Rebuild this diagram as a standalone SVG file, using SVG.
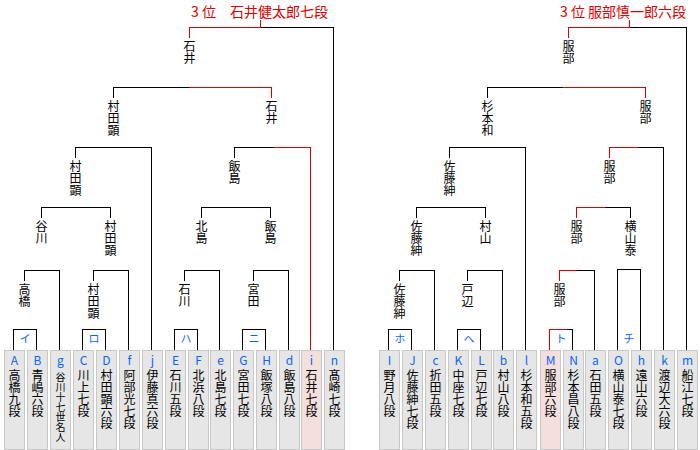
<svg xmlns="http://www.w3.org/2000/svg" width="700" height="450" viewBox="0 0 700 450">
<style>
text{font-family:"Noto Sans CJK JP","Noto Sans CJK SC",sans-serif}
.bk{stroke:#000;stroke-width:1;fill:none;shape-rendering:crispEdges}
.rd{stroke:#dd0000;stroke-width:1;fill:none;shape-rendering:crispEdges}
.v{font-size:12px;writing-mode:vertical-rl;text-anchor:start;fill:#000}
.ch{font-size:14px;fill:#dd0000}
.bx{font-size:11px;text-anchor:middle;fill:#0a64ff}
.card{fill:#e6e6e6;stroke:#c8c8c8;stroke-width:1;shape-rendering:crispEdges}
.pk{fill:#f5dede}
.lt{font-size:12px;text-anchor:middle;fill:#0a64ff}
.sm{font-size:10px}
</style>
<rect width="700" height="450" fill="#fff"/>
<g id="connectors">
<path class="rd" d="M189.5,37.5V27.5H260.5M260.5,27.5V19.5"/>
<path class="bk" d="M260.5,27.5H333.5V350"/>
<path class="bk" d="M113.5,97.5V87.5H188.5"/>
<path class="rd" d="M188.5,87.5H271.5V97.5"/>
<path class="bk" d="M75.5,157.5V147.5H151.5V350"/>
<path class="bk" d="M234.5,157.5V147.5H273.5"/>
<path class="rd" d="M273.5,147.5H310.5V350"/>
<path class="bk" d="M41.5,217.5V207.5H110.5V217.5M201.5,217.5V207.5H270.5V217.5"/>
<path class="bk" d="M24.5,280.5V270.5H59.5V350M93.5,280.5V270.5H128.5V350M184.5,280.5V270.5H219.5V350M253.5,280.5V270.5H288.5V350"/>
<path class="bk" d="M13.5,350V329.5H36.5V350M82.5,350V329.5H105.5V350M174.5,350V329.5H197.5V350M242.5,350V329.5H265.5V350"/>
<path class="rd" d="M568.5,37.5V27.5H629.5M629.5,27.5V19.5"/>
<path class="bk" d="M629.5,27.5H686.5V350"/>
<path class="bk" d="M487.5,97.5V87.5H562.5"/>
<path class="rd" d="M562.5,87.5H645.5V97.5"/>
<path class="bk" d="M449.5,157.5V147.5H525.5V350"/>
<path class="rd" d="M609.5,157.5V147.5H637.5"/>
<path class="bk" d="M637.5,147.5H663.5V350"/>
<path class="bk" d="M416.5,217.5V207.5H485.5V217.5"/>
<path class="rd" d="M576.5,217.5V207.5H604.5"/>
<path class="bk" d="M604.5,207.5H630.5V217.5"/>
<path class="bk" d="M399.5,280.5V270.5H434.5V350M467.5,280.5V270.5H502.5V350"/>
<path class="rd" d="M559.5,280.5V270.5H576.5"/>
<path class="bk" d="M576.5,270.5H594.5V350"/>
<path class="bk" d="M617.5,350V269.5H640.5V350"/>
<path class="bk" d="M388.5,350V329.5H411.5V350M457.5,350V329.5H480.5V350"/>
<path class="rd" d="M549.5,350V329.5H566.5"/>
<path class="bk" d="M566.5,329.5H572.5V350"/>
</g>
<g id="champion-left"><text class="ch" x="191" y="17">3 位　石井健太郎七段</text></g>
<g id="champion-right"><text class="ch" x="560" y="17">3 位 服部慎一郎六段</text></g>
<g id="n-ishii-top"><text class="v" x="189.5" y="40">石井</text></g>
<g id="n-murata-sf"><text class="v" x="113.5" y="100">村田顕</text></g>
<g id="n-ishii-sf"><text class="v" x="271.5" y="100">石井</text></g>
<g id="n-murata-qf"><text class="v" x="75.5" y="160">村田顕</text></g>
<g id="n-iijima-qf"><text class="v" x="234.5" y="160">飯島</text></g>
<g id="n-tanigawa"><text class="v" x="41.5" y="220">谷川</text></g>
<g id="n-murata-r2"><text class="v" x="110.5" y="220">村田顕</text></g>
<g id="n-kitajima"><text class="v" x="201.5" y="220">北島</text></g>
<g id="n-iijima-r2"><text class="v" x="270.5" y="220">飯島</text></g>
<g id="n-takahashi"><text class="v" x="24.5" y="283">高橋</text></g>
<g id="n-murata-r1"><text class="v" x="93.5" y="283">村田顕</text></g>
<g id="n-ishikawa"><text class="v" x="184.5" y="283">石川</text></g>
<g id="n-miyata"><text class="v" x="253.5" y="283">宮田</text></g>
<g id="n-hattori-top"><text class="v" x="568.5" y="40">服部</text></g>
<g id="n-sugimoto-sf"><text class="v" x="487.5" y="100">杉本和</text></g>
<g id="n-hattori-sf"><text class="v" x="645.5" y="100">服部</text></g>
<g id="n-sato-qf"><text class="v" x="449.5" y="160">佐藤紳</text></g>
<g id="n-hattori-qf"><text class="v" x="609.5" y="160">服部</text></g>
<g id="n-sato-r2"><text class="v" x="416.5" y="220">佐藤紳</text></g>
<g id="n-murayama"><text class="v" x="485.5" y="220">村山</text></g>
<g id="n-hattori-r2"><text class="v" x="576.5" y="220">服部</text></g>
<g id="n-yokoyama"><text class="v" x="630.5" y="220">横山泰</text></g>
<g id="n-sato-r1"><text class="v" x="399.5" y="283">佐藤紳</text></g>
<g id="n-tobe"><text class="v" x="467.5" y="283">戸辺</text></g>
<g id="n-hattori-r1"><text class="v" x="559.5" y="283">服部</text></g>
<g id="box-i"><text class="bx" x="25" y="342.5">イ</text></g>
<g id="box-ro"><text class="bx" x="94" y="342.5">ロ</text></g>
<g id="box-ha"><text class="bx" x="186" y="342.5">ハ</text></g>
<g id="box-ni"><text class="bx" x="254" y="342.5">ニ</text></g>
<g id="box-ho"><text class="bx" x="400" y="342.5">ホ</text></g>
<g id="box-he"><text class="bx" x="469" y="342.5">ヘ</text></g>
<g id="box-to"><text class="bx" x="561" y="342.5">ト</text></g>
<g id="box-chi"><text class="bx" x="629" y="342.5">チ</text></g>
<g id="c-A"><rect class="card" x="4.5" y="350.5" width="20" height="99"/><text class="lt" x="14.5" y="364.5">A</text><text class="v" x="14.5" y="369">高橋九段</text></g>
<g id="c-B"><rect class="card" x="27.5" y="350.5" width="20" height="99"/><text class="lt" x="37.5" y="364.5">B</text><text class="v" x="37.5" y="369">青嶋六段</text></g>
<g id="c-g"><rect class="card" x="50.5" y="350.5" width="20" height="99"/><text class="lt" x="60.5" y="364.5">g</text><text class="v sm" x="60.5" y="372">谷川十七世名人</text></g>
<g id="c-C"><rect class="card" x="73.5" y="350.5" width="20" height="99"/><text class="lt" x="83.5" y="364.5">C</text><text class="v" x="83.5" y="369">川上七段</text></g>
<g id="c-D"><rect class="card" x="96.5" y="350.5" width="20" height="99"/><text class="lt" x="106.5" y="364.5">D</text><text class="v" x="106.5" y="369">村田顕六段</text></g>
<g id="c-f"><rect class="card" x="119.5" y="350.5" width="20" height="99"/><text class="lt" x="129.5" y="364.5">f</text><text class="v" x="129.5" y="369">阿部光七段</text></g>
<g id="c-j"><rect class="card" x="142.5" y="350.5" width="20" height="99"/><text class="lt" x="152.5" y="364.5">j</text><text class="v" x="152.5" y="369">伊藤真六段</text></g>
<g id="c-E"><rect class="card" x="165.5" y="350.5" width="20" height="99"/><text class="lt" x="175.5" y="364.5">E</text><text class="v" x="175.5" y="369">石川五段</text></g>
<g id="c-F"><rect class="card" x="188.5" y="350.5" width="20" height="99"/><text class="lt" x="198.5" y="364.5">F</text><text class="v" x="198.5" y="369">北浜八段</text></g>
<g id="c-e"><rect class="card" x="210.5" y="350.5" width="20" height="99"/><text class="lt" x="220.5" y="364.5">e</text><text class="v" x="220.5" y="369">北島七段</text></g>
<g id="c-G"><rect class="card" x="233.5" y="350.5" width="20" height="99"/><text class="lt" x="243.5" y="364.5">G</text><text class="v" x="243.5" y="369">宮田七段</text></g>
<g id="c-H"><rect class="card" x="256.5" y="350.5" width="20" height="99"/><text class="lt" x="266.5" y="364.5">H</text><text class="v" x="266.5" y="369">飯塚八段</text></g>
<g id="c-d"><rect class="card" x="279.5" y="350.5" width="20" height="99"/><text class="lt" x="289.5" y="364.5">d</text><text class="v" x="289.5" y="369">飯島八段</text></g>
<g id="c-i"><rect class="card pk" x="301.5" y="350.5" width="20" height="99"/><text class="lt" x="311.5" y="364.5">i</text><text class="v" x="311.5" y="369">石井七段</text></g>
<g id="c-n"><rect class="card" x="324.5" y="350.5" width="20" height="99"/><text class="lt" x="334.5" y="364.5">n</text><text class="v" x="334.5" y="369">髙崎七段</text></g>
<g id="c-I"><rect class="card" x="379.5" y="350.5" width="20" height="99"/><text class="lt" x="389.5" y="364.5">I</text><text class="v" x="389.5" y="369">野月八段</text></g>
<g id="c-J"><rect class="card" x="402.5" y="350.5" width="20" height="99"/><text class="lt" x="412.5" y="364.5">J</text><text class="v" x="412.5" y="369">佐藤紳七段</text></g>
<g id="c-c"><rect class="card" x="425.5" y="350.5" width="20" height="99"/><text class="lt" x="435.5" y="364.5">c</text><text class="v" x="435.5" y="369">折田五段</text></g>
<g id="c-K"><rect class="card" x="448.5" y="350.5" width="20" height="99"/><text class="lt" x="458.5" y="364.5">K</text><text class="v" x="458.5" y="369">中座七段</text></g>
<g id="c-L"><rect class="card" x="471.5" y="350.5" width="20" height="99"/><text class="lt" x="481.5" y="364.5">L</text><text class="v" x="481.5" y="369">戸辺七段</text></g>
<g id="c-b"><rect class="card" x="493.5" y="350.5" width="20" height="99"/><text class="lt" x="503.5" y="364.5">b</text><text class="v" x="503.5" y="369">村山八段</text></g>
<g id="c-l"><rect class="card" x="516.5" y="350.5" width="20" height="99"/><text class="lt" x="526.5" y="364.5">l</text><text class="v" x="526.5" y="369">杉本和五段</text></g>
<g id="c-M"><rect class="card pk" x="540.5" y="350.5" width="20" height="99"/><text class="lt" x="550.5" y="364.5">M</text><text class="v" x="550.5" y="369">服部六段</text></g>
<g id="c-N"><rect class="card" x="563.5" y="350.5" width="20" height="99"/><text class="lt" x="573.5" y="364.5">N</text><text class="v" x="573.5" y="369">杉本昌八段</text></g>
<g id="c-a"><rect class="card" x="585.5" y="350.5" width="20" height="99"/><text class="lt" x="595.5" y="364.5">a</text><text class="v" x="595.5" y="369">石田五段</text></g>
<g id="c-O"><rect class="card" x="608.5" y="350.5" width="20" height="99"/><text class="lt" x="618.5" y="364.5">O</text><text class="v" x="618.5" y="369">横山泰七段</text></g>
<g id="c-h"><rect class="card" x="631.5" y="350.5" width="20" height="99"/><text class="lt" x="641.5" y="364.5">h</text><text class="v" x="641.5" y="369">遠山六段</text></g>
<g id="c-k"><rect class="card" x="654.5" y="350.5" width="20" height="99"/><text class="lt" x="664.5" y="364.5">k</text><text class="v" x="664.5" y="369">渡辺大六段</text></g>
<g id="c-m"><rect class="card" x="677.5" y="350.5" width="20" height="99"/><text class="lt" x="687.5" y="364.5">m</text><text class="v" x="687.5" y="369">船江七段</text></g>
</svg>
